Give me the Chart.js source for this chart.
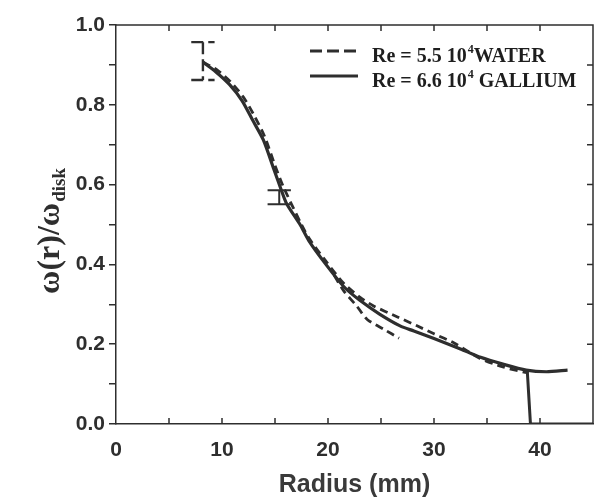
<!DOCTYPE html>
<html>
<head>
<meta charset="utf-8">
<title>Angular velocity profile</title>
<script src="https://cdn.jsdelivr.net/npm/chart.js@4.4.0/dist/chart.umd.min.js"></script>
<style>
  html, body { margin: 0; padding: 0; background: #fff; overflow: hidden; }
</style>
</head>
<body>
<canvas id="profileChart" width="594" height="504"></canvas>
<script>
// Values (radius in mm, omega(r)/omega_disk)

// water, Re = 5.5 10^4 (dashed) - main branch
const waterR = [8.2, 9.5, 10.8, 12.0, 13.0, 14.0, 15.0, 15.8, 17.4, 18.2, 19.8, 21.5, 23.0, 24.3, 26.5, 28.4, 30.0, 31.9, 34.3, 36.5, 38.5, 38.9];
const waterW = [0.907, 0.888, 0.858, 0.820, 0.775, 0.722, 0.648, 0.594, 0.505, 0.466, 0.408, 0.352, 0.318, 0.296, 0.269, 0.246, 0.226, 0.203, 0.165, 0.143, 0.130, 0.128];
// water - lower dashed branch
const waterLowR = [20.6, 21.5, 22.7, 23.7, 25.3, 26.7];
const waterLowW = [0.372, 0.333, 0.296, 0.262, 0.237, 0.215];

// gallium, Re = 6.6 10^4 (solid)
const galR = [8.2, 9.4, 10.7, 11.9, 12.9, 13.9, 14.9, 15.6, 16.1, 17.4, 18.2, 19.8, 21.5, 23.0, 24.9, 26.8, 28.1, 30.0, 32.5, 34.4, 36.5, 38.7, 40.6, 42.6];
const galW = [0.907, 0.883, 0.851, 0.810, 0.761, 0.712, 0.638, 0.586, 0.552, 0.498, 0.459, 0.400, 0.344, 0.310, 0.275, 0.246, 0.233, 0.214, 0.188, 0.167, 0.150, 0.135, 0.131, 0.135];

// disk edge: profile drops to zero at the wall
const edgeR = [38.8, 39.1, 45];
const edgeW = [0.133, 0.0, 0.0];

// error bars: [water, gallium]
const errR = [8.2, 15.4];
const errLo = [0.862, 0.551];
const errHi = [0.957, 0.586];

const INK = '#2e2e2e';
const CAP_MM = 1.1;

const pts = (xs, ys) => xs.map((r, i) => ({ x: r, y: ys[i] }));

// one error bar as three strokes: top cap, stem, bottom cap
function errBar(i) {
    const r = errR[i];
    return [
        { x: r - CAP_MM, y: errHi[i] }, { x: r + CAP_MM, y: errHi[i] }, { x: r, y: null },
        { x: r, y: errHi[i] }, { x: r, y: errLo[i] }, { x: r, y: null },
        { x: r - CAP_MM, y: errLo[i] }, { x: r + CAP_MM, y: errLo[i] }
    ];
}

const waterData = pts(waterR, waterW)
    .concat([{ x: waterLowR[0], y: null }])
    .concat(pts(waterLowR, waterLowW));

const sansFont = '"Liberation Sans", Arial, sans-serif';
const serifFont = '"Liberation Serif", "Times New Roman", serif';

// top / right frame with inward ticks, plus inward ticks on the bottom axis
const framePlugin = {
    id: 'frame',
    afterDraw(chart) {
        const { ctx, chartArea: a, scales: { x, y } } = chart;
        ctx.save();
        ctx.strokeStyle = INK;
        ctx.lineWidth = 1.5;
        ctx.beginPath();
        ctx.moveTo(a.left, a.top);
        ctx.lineTo(a.right, a.top);
        ctx.lineTo(a.right, a.bottom);
        x.ticks.forEach(t => {
            if (t.value <= 0 || t.value >= 45) return;
            const px = x.getPixelForValue(t.value);
            ctx.moveTo(px, a.bottom);
            ctx.lineTo(px, a.bottom - 6);
            ctx.moveTo(px, a.top);
            ctx.lineTo(px, a.top + 6);
        });
        y.ticks.forEach(t => {
            if (t.value <= 0 || t.value >= 1) return;
            const py = y.getPixelForValue(t.value);
            ctx.moveTo(a.right, py);
            ctx.lineTo(a.right - 6, py);
        });
        ctx.stroke();
        ctx.restore();
    }
};

// y axis title with a subscript
const yTitlePlugin = {
    id: 'yTitle',
    afterDraw(chart) {
        const ctx = chart.ctx;
        ctx.save();
        ctx.fillStyle = INK;
        ctx.translate(59, 294);
        ctx.rotate(-Math.PI / 2);
        ctx.font = 'bold 32px ' + serifFont;
        ctx.textBaseline = 'alphabetic';
        const main = 'ω(r)/ω';
        ctx.fillText(main, 0, 0);
        const w = ctx.measureText(main).width;
        ctx.font = 'bold 19px ' + serifFont;
        ctx.fillText('disk', w + 1, 6);
        ctx.restore();
    }
};

// legend in the upper right of the plot, "10⁴" drawn with a raised 4
const legendPlugin = {
    id: 'inlineLegend',
    afterDraw(chart) {
        const ctx = chart.ctx;
        const items = chart.data.datasets.filter(d => d.inLegend);
        ctx.save();
        items.forEach((ds, i) => {
            const base = 62 + i * 25;
            ctx.strokeStyle = ds.borderColor;
            ctx.lineWidth = ds.borderWidth;
            ctx.setLineDash(ds.borderDash.length ? [12, 5] : []);
            ctx.beginPath();
            ctx.moveTo(310, base - 11);
            ctx.lineTo(358, base - 11);
            ctx.stroke();

            ctx.fillStyle = '#1e1e1e';
            ctx.textBaseline = 'alphabetic';
            const parts = ds.label.split('⁴');
            let xx = 372;
            ctx.font = 'bold 20px ' + serifFont;
            ctx.fillText(parts[0], xx, base);
            xx += ctx.measureText(parts[0]).width + 1;
            ctx.font = 'bold 12px ' + serifFont;
            ctx.fillText('4', xx, base - 9);
            xx += ctx.measureText('4').width;
            ctx.font = 'bold 20px ' + serifFont;
            ctx.fillText(parts[1], xx, base);
        });
        ctx.restore();
    }
};

new Chart(document.getElementById('profileChart'), {
    type: 'line',
    data: {
        datasets: [
            {
                label: 'Re = 5.5 10⁴WATER',
                inLegend: true,
                data: waterData,
                borderColor: INK,
                borderWidth: 2.8,
                borderDash: [8, 5],
                pointRadius: 0,
                tension: 0.25,
                spanGaps: false
            },
            {
                label: 'Re = 6.6 10⁴ GALLIUM',
                inLegend: true,
                data: pts(galR, galW),
                borderColor: INK,
                borderWidth: 3.2,
                borderDash: [],
                pointRadius: 0,
                tension: 0.25
            },
            {
                label: 'disk edge',
                data: pts(edgeR, edgeW),
                borderColor: INK,
                borderWidth: 3,
                pointRadius: 0
            },
            {
                label: 'water error',
                data: errBar(0),
                borderColor: INK,
                borderWidth: 2.4,
                borderDash: [12, 5],
                pointRadius: 0,
                spanGaps: false
            },
            {
                label: 'gallium error',
                data: errBar(1),
                borderColor: INK,
                borderWidth: 2,
                pointRadius: 0,
                spanGaps: false
            }
        ]
    },
    options: {
        responsive: false,
        animation: false,
        devicePixelRatio: 1,
        layout: { padding: { top: 25, right: 1, left: 0, bottom: 0 } },
        plugins: { legend: { display: false }, tooltip: { enabled: false } },
        scales: {
            x: {
                type: 'linear',
                min: 0,
                max: 45,
                afterFit(s) { s.height = 80; s.paddingRight = 0; s.paddingLeft = 0; },
                ticks: {
                    stepSize: 5,
                    autoSkip: false,
                    maxRotation: 0,
                    padding: 14,
                    color: INK,
                    font: { family: sansFont, weight: 'bold', size: 21 },
                    callback: v => (v % 10 === 0 ? v : '')
                },
                grid: { drawOnChartArea: false, drawTicks: false },
                border: { color: INK, width: 1.5 },
                title: {
                    display: true,
                    text: 'Radius (mm)',
                    color: '#3a3a3a',
                    font: { family: sansFont, weight: 'bold', size: 25 },
                    padding: { top: 0, bottom: 4 }
                }
            },
            y: {
                type: 'linear',
                min: 0,
                max: 1,
                afterFit(s) { s.width = 116; },
                ticks: {
                    stepSize: 0.1,
                    padding: 4,
                    color: INK,
                    font: { family: sansFont, weight: 'bold', size: 21 },
                    callback: v => (Math.round(v * 10) % 2 === 0 ? v.toFixed(1) : '')
                },
                grid: { drawOnChartArea: false, tickLength: 7, color: INK, lineWidth: 1.5 },
                border: { color: INK, width: 1.5 }
            }
        }
    },
    plugins: [framePlugin, yTitlePlugin, legendPlugin]
});
</script>
</body>
</html>
